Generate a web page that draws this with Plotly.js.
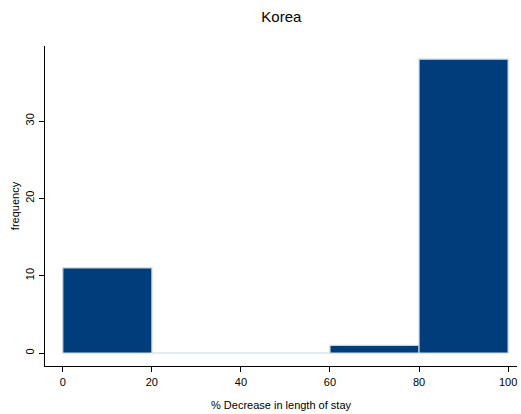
<!DOCTYPE html>
<html><head><meta charset="utf-8">
<script src="https://cdn.plot.ly/plotly-3.0.1.min.js"></script>
<style>body{margin:0;background:#fff}#c{width:521px;height:414px}</style>
</head><body><div id="c"></div>
<script>
const binStarts = [0, 20, 40, 60, 80];
const binWidth = 20;
const frequency = [11, 0, 0, 1, 38];
const xTicks = [0, 20, 40, 60, 80, 100];
const yTicks = [0, 10, 20, 30];

const centers = binStarts.map(s => s + binWidth / 2);
const trace = {
  type: 'bar', x: centers, y: frequency, width: binStarts.map(() => binWidth),
  marker: {color: '#003d7a', line: {color: '#c8d5e4', width: 1.2}},
  hoverinfo: 'x+y'
};
const font = {family: 'Liberation Sans, Arial, sans-serif', color: '#000', size: 11};
const layout = {
  width: 521, height: 414,
  margin: {l: 45, r: 4, t: 46, b: 48},
  paper_bgcolor: '#fff', plot_bgcolor: '#fff',
  font: font,
  showlegend: false,
  bargap: 0,
  title: {text: 'Korea', x: 0.54, xanchor: 'center', y: 0.96, yanchor: 'middle', font: {family: font.family, size: 15, color: '#000'}},
  xaxis: {
    range: [-4, 102], tickvals: xTicks, ticktext: xTicks.map(String),
    showgrid: false, zeroline: false, showline: true, linecolor: '#000', linewidth: 1.3,
    ticks: 'outside', ticklen: 5, tickcolor: '#000', tickfont: font,
    title: {text: '% Decrease in length of stay', font: {family: font.family, size: 11, color: '#000'}, standoff: 14}
  },
  yaxis: {
    range: [-1.68, 39.7], tickvals: yTicks, ticktext: yTicks.map(String), tickangle: -90,
    showgrid: false, zeroline: false, showline: true, linecolor: '#000', linewidth: 1.3,
    ticks: 'outside', ticklen: 5, tickcolor: '#000', tickfont: font,
    title: {text: 'frequency', font: {family: font.family, size: 11, color: '#000'}, standoff: 2}
  }
};
Plotly.newPlot('c', [trace], layout, {displayModeBar: false, staticPlot: true});
</script></body></html>
